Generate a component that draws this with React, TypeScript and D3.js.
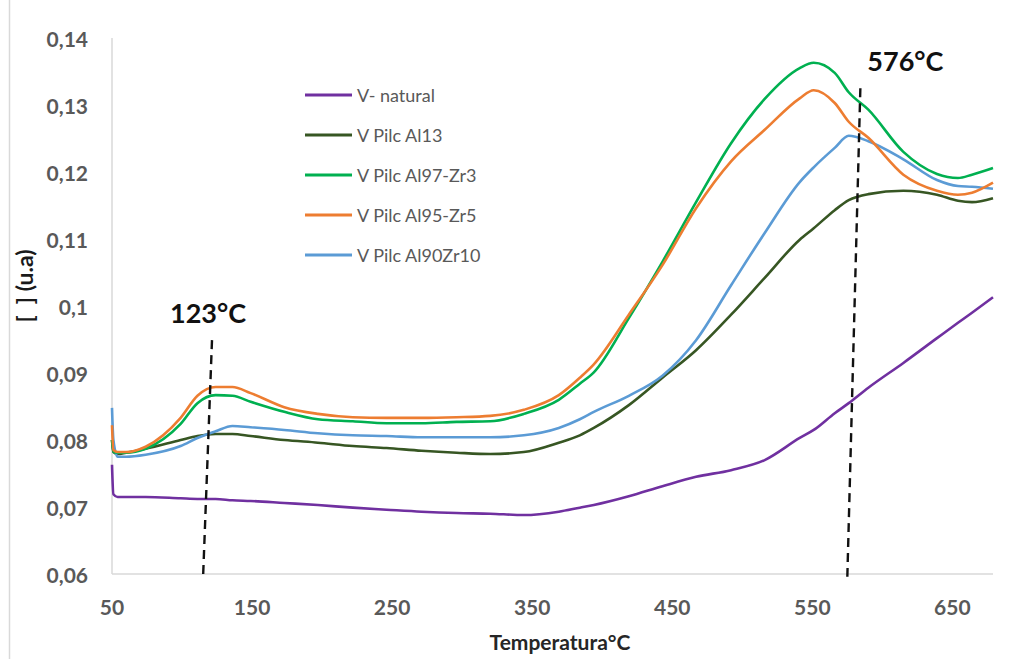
import React from "react";
import * as d3 from "d3";

// Temperature samples (°C) shared by every series
const temps = [
  50, 51, 54, 60, 74, 99, 111, 124, 136, 149, 173, 197, 222, 246, 271, 296, 320, 344,
  369, 384, 394, 419, 443, 467, 492, 516, 541, 551, 566, 576, 590, 615, 639, 654, 664, 679,
];

const vNatural = [
  0.0763, 0.0719, 0.0715, 0.0715, 0.0715, 0.0713, 0.0712, 0.0712, 0.071, 0.0709, 0.0706,
  0.0703, 0.0699, 0.0696, 0.0693, 0.0691, 0.069, 0.0688, 0.0693, 0.0699, 0.0703, 0.0716,
  0.0731, 0.0745, 0.0755, 0.077, 0.0803, 0.0815, 0.084, 0.0855, 0.0878, 0.0915, 0.0952,
  0.0975, 0.099, 0.1013,
];

const pilcAl13 = [
  0.08, 0.0782, 0.0779, 0.0781, 0.0787, 0.08, 0.0806, 0.0809, 0.0809, 0.0806, 0.08, 0.0796,
  0.0791, 0.0788, 0.0784, 0.0781, 0.0779, 0.0782, 0.0796, 0.0807, 0.0818, 0.0852, 0.0893,
  0.0934, 0.0987, 0.1042, 0.1099, 0.1116, 0.1143, 0.1158, 0.1167, 0.1172, 0.1166, 0.1157,
  0.1155, 0.1161,
];

const pilcAl97Zr3 = [
  0.08, 0.0782, 0.0781, 0.0781, 0.0787, 0.0824, 0.0855, 0.0867, 0.0866, 0.0857, 0.0842,
  0.0831, 0.0828, 0.0825, 0.0825, 0.0827, 0.0828, 0.0839, 0.086, 0.0884, 0.0901, 0.0982,
  0.1066, 0.1155, 0.1243, 0.1309, 0.1355, 0.1363, 0.1348, 0.1319, 0.1293, 0.123, 0.1197,
  0.1191, 0.1196, 0.1206,
];

const pilcAl95Zr5 = [
  0.0822, 0.0785, 0.0782, 0.0782, 0.079, 0.0833, 0.0866, 0.0879, 0.0879, 0.087, 0.0849,
  0.0839, 0.0834, 0.0833, 0.0833, 0.0834, 0.0836, 0.0845, 0.0867, 0.0893, 0.0913, 0.0987,
  0.1061, 0.1146, 0.1216, 0.1263, 0.131, 0.1322, 0.1303, 0.1275, 0.1251, 0.1196, 0.1172,
  0.1166, 0.1169, 0.1184,
];

const pilcAl90Zr10 = [
  0.0848, 0.08, 0.0775, 0.0775, 0.0778, 0.0791, 0.0803, 0.0813, 0.0821, 0.0819, 0.0815,
  0.081, 0.0807, 0.0806, 0.0804, 0.0804, 0.0804, 0.0807, 0.0818, 0.0831, 0.0842, 0.0866,
  0.0896, 0.0949, 0.1031, 0.1109, 0.1185, 0.1207, 0.1236, 0.1254, 0.1246, 0.1219, 0.1188,
  0.1179, 0.1178, 0.1175,
];

const seriesNames = ["V- natural", "V Pilc Al13", "V Pilc Al97-Zr3", "V Pilc Al95-Zr5", "V Pilc Al90Zr10"];
const seriesColors = ["#7030A0", "#375623", "#00B050", "#ED7D31", "#5B9BD5"];
const seriesValues = [vNatural, pilcAl13, pilcAl97Zr3, pilcAl95Zr5, pilcAl90Zr10];
// drawing order: lower curves first
const drawOrder = [0, 1, 4, 2, 3];

const xTicks = [50, 150, 250, 350, 450, 550, 650];
const yTicks = [0.06, 0.07, 0.08, 0.09, 0.1, 0.11, 0.12, 0.13, 0.14];
const yTickLabels = ["0,06", "0,07", "0,08", "0,09", "0,1", "0,11", "0,12", "0,13", "0,14"];

// Hand-drawn peak markers: label, line top (temp, value), line bottom (temp, value)
const peakLabels = ["123°C", "576°C"];
const peakTop: [number, number][] = [[121.4, 0.0949], [584.3, 0.1325]];
const peakBottom: [number, number][] = [[115, 0.0594], [575, 0.0596]];

const W = 1024;
const H = 659;
const FONT = "Lato, 'Open Sans', sans-serif";

export default function App() {
  const x = d3.scaleLinear().domain([50, 679]).range([112, 993]);
  const y = d3.scaleLinear().domain([0.06, 0.14]).range([574, 38]);

  const line = d3
    .line<[number, number]>()
    .x((d) => x(d[0]))
    .y((d) => y(d[1]))
    .curve(d3.curveMonotoneX);

  const legendX = 305;
  const legendY0 = 95;
  const legendStep = 40;

  return (
    <svg
      width={W}
      height={H}
      style={{ position: "absolute", left: 0, top: 0, background: "#fff" }}
      fontFamily={FONT}
    >
      <rect x={0} y={0} width={W} height={H} fill="#fff" />
      <line x1={9.5} x2={9.5} y1={0} y2={H} stroke="#d9d9d9" strokeWidth={1.5} />

      {/* axes */}
      <line x1={x(50)} x2={x(50)} y1={y(0.14)} y2={y(0.06)} stroke="#d9d9d9" strokeWidth={1.5} />
      <line x1={x(50)} x2={x(679)} y1={y(0.06)} y2={y(0.06)} stroke="#d9d9d9" strokeWidth={1.5} />

      {yTicks.map((t, i) => (
        <text
          key={"y" + t}
          x={88}
          y={y(t)}
          textAnchor="end"
          dominantBaseline="central"
          fontSize={21}
          fontWeight="bold"
          fill="#595959"
        >
          {yTickLabels[i]}
        </text>
      ))}
      {xTicks.map((t) => (
        <text
          key={"x" + t}
          x={x(t)}
          y={606}
          textAnchor="middle"
          dominantBaseline="central"
          fontSize={21}
          fontWeight="bold"
          fill="#595959"
        >
          {t}
        </text>
      ))}

      <text
        x={560}
        y={641}
        textAnchor="middle"
        dominantBaseline="central"
        fontSize={21}
        fontWeight="bold"
        fill="#262626"
      >
        Temperatura°C
      </text>
      <text
        transform={`translate(24,${y(0.1) - 20}) rotate(-90)`}
        textAnchor="middle"
        dominantBaseline="central"
        fontSize={23}
        fontWeight="bold"
        fill="#1a1a1a"
      >
        {"[\u00a0\u00a0] (u.a)"}
      </text>

      {/* series */}
      {drawOrder.map((si) => (
        <path
          key={seriesNames[si]}
          d={line(temps.map((t, i) => [t, seriesValues[si][i]]) as [number, number][]) || ""}
          fill="none"
          stroke={seriesColors[si]}
          strokeWidth={2.6}
          strokeLinejoin="round"
        />
      ))}

      {/* peak markers */}
      {peakLabels.map((lab, i) => (
        <g key={lab}>
          <line
            x1={x(peakTop[i][0])}
            y1={y(peakTop[i][1])}
            x2={x(peakBottom[i][0])}
            y2={y(peakBottom[i][1])}
            stroke="#111"
            strokeWidth={2.4}
            strokeDasharray="9 6"
          />
          <text
            x={x(peakTop[i][0]) + (i === 0 ? -4 : 45)}
            y={y(peakTop[i][1]) - 28}
            textAnchor="middle"
            dominantBaseline="central"
            fontSize={27}
            fontWeight="bold"
            fill="#111"
          >
            {lab}
          </text>
        </g>
      ))}

      {/* legend */}
      {seriesNames.map((n, i) => (
        <g key={"lg" + n} transform={`translate(${legendX},${legendY0 + i * legendStep})`}>
          <line x1={0} x2={47} y1={0} y2={0} stroke={seriesColors[i]} strokeWidth={3} />
          <text x={52} y={0} dominantBaseline="central" fontSize={18} fill="#595959">
            {n}
          </text>
        </g>
      ))}
    </svg>
  );
}
